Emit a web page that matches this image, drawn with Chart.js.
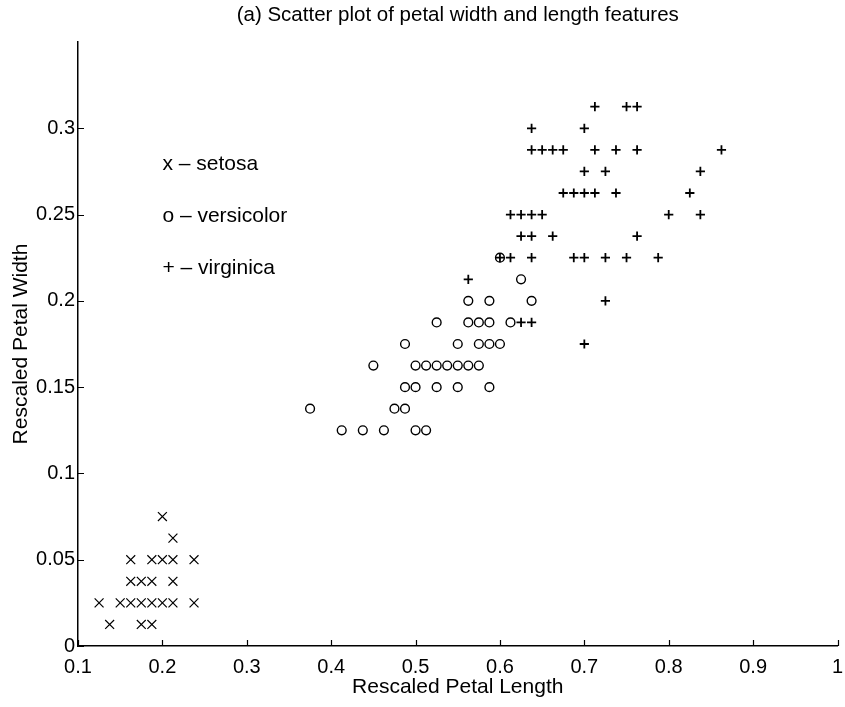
<!DOCTYPE html>
<html>
<head>
<meta charset="utf-8">
<title>Scatter plot of petal width and length features</title>
<script src="https://cdn.jsdelivr.net/npm/chart.js@4.4.1/dist/chart.umd.min.js"></script>
<style>
  html, body { margin: 0; padding: 0; background: #fff; }
  #wrap { width: 845px; height: 707px; }
</style>
</head>
<body>
<div id="wrap"><canvas id="irisChart" width="845" height="707"></canvas></div>
<script>
// rescaled petal length (x) and petal width (y), one entry per visible mark
const setosaX = [0.1375, 0.175, 0.1875,
  0.125, 0.15, 0.1625, 0.175, 0.1875, 0.2, 0.2125, 0.2375,
  0.1625, 0.175, 0.1875, 0.2125,
  0.1625, 0.1875, 0.2, 0.2125, 0.2375,
  0.2125, 0.2];
const setosaY = [0.0125, 0.0125, 0.0125,
  0.025, 0.025, 0.025, 0.025, 0.025, 0.025, 0.025, 0.025,
  0.0375, 0.0375, 0.0375, 0.0375,
  0.05, 0.05, 0.05, 0.05, 0.05,
  0.0625, 0.075];

const versicolorX = [0.4125, 0.4375, 0.4625, 0.5, 0.5125,
  0.375, 0.475, 0.4875,
  0.4875, 0.5, 0.525, 0.55, 0.5875,
  0.45, 0.5, 0.5125, 0.525, 0.5375, 0.55, 0.5625, 0.575,
  0.4875, 0.55, 0.575, 0.5875, 0.6,
  0.525, 0.5625, 0.575, 0.5875, 0.6125,
  0.5625, 0.5875, 0.6375,
  0.625, 0.6];
const versicolorY = [0.125, 0.125, 0.125, 0.125, 0.125,
  0.1375, 0.1375, 0.1375,
  0.15, 0.15, 0.15, 0.15, 0.15,
  0.1625, 0.1625, 0.1625, 0.1625, 0.1625, 0.1625, 0.1625, 0.1625,
  0.175, 0.175, 0.175, 0.175, 0.175,
  0.1875, 0.1875, 0.1875, 0.1875, 0.1875,
  0.2, 0.2, 0.2,
  0.2125, 0.225];

const virginicaX = [0.7, 0.625, 0.6375, 0.725, 0.5625,
  0.6, 0.6125, 0.6375, 0.6875, 0.7, 0.725, 0.75, 0.7875,
  0.625, 0.6375, 0.6625, 0.7625,
  0.6125, 0.625, 0.6375, 0.65, 0.8, 0.8375,
  0.675, 0.6875, 0.7, 0.7125, 0.7375, 0.825,
  0.7, 0.725, 0.8375,
  0.6375, 0.65, 0.6625, 0.675, 0.7125, 0.7375, 0.7625, 0.8625,
  0.6375, 0.7,
  0.7125, 0.75, 0.7625];
const virginicaY = [0.175, 0.1875, 0.1875, 0.2, 0.2125,
  0.225, 0.225, 0.225, 0.225, 0.225, 0.225, 0.225, 0.225,
  0.2375, 0.2375, 0.2375, 0.2375,
  0.25, 0.25, 0.25, 0.25, 0.25, 0.25,
  0.2625, 0.2625, 0.2625, 0.2625, 0.2625, 0.2625,
  0.275, 0.275, 0.275,
  0.2875, 0.2875, 0.2875, 0.2875, 0.2875, 0.2875, 0.2875, 0.2875,
  0.3, 0.3,
  0.3125, 0.3125, 0.3125];

const xTicks = [0.1, 0.2, 0.3, 0.4, 0.5, 0.6, 0.7, 0.8, 0.9, 1];
const yTicks = [0, 0.05, 0.1, 0.15, 0.2, 0.25, 0.3];

// text labels inside the plot, placed in data units
const noteLabels = ['x \u2013 setosa', 'o \u2013 versicolor', '+ \u2013 virginica'];
const noteX = [0.2, 0.2, 0.2];
const noteY = [0.279, 0.249, 0.219];

const titleText = '(a) Scatter plot of petal width and length features';
const FONT = "'Liberation Sans', Arial, sans-serif";

function toPoints(xs, ys) {
  return xs.map((x, i) => ({x: x, y: ys[i]}));
}

// matlab style: ticks point into the plot, title and notes as plain text
const decorations = {
  id: 'decorations',
  afterDraw(chart) {
    const c = chart.ctx;
    const area = chart.chartArea;
    const xs = chart.scales.x, ys = chart.scales.y;
    c.save();
    c.strokeStyle = '#000';
    c.lineWidth = 1.2;
    c.beginPath();
    xTicks.forEach(v => {
      const px = Math.round(xs.getPixelForValue(v)) + 0.5;
      c.moveTo(px, area.bottom);
      c.lineTo(px, area.bottom - 6);
    });
    yTicks.forEach(v => {
      const py = Math.round(ys.getPixelForValue(v)) + 0.5;
      c.moveTo(area.left, py);
      c.lineTo(area.left + 6, py);
    });
    c.stroke();

    c.fillStyle = '#000';
    c.font = '21px ' + FONT;
    c.textAlign = 'left';
    c.textBaseline = 'middle';
    noteLabels.forEach((t, i) => {
      c.fillText(t, xs.getPixelForValue(noteX[i]), ys.getPixelForValue(noteY[i]));
    });

    c.font = '20.5px ' + FONT;
    c.textAlign = 'center';
    c.textBaseline = 'middle';
    c.fillText(titleText, (area.left + area.right) / 2, 15);
    c.restore();
  }
};

const ctx = document.getElementById('irisChart').getContext('2d');
const chart = new Chart(ctx, {
  type: 'scatter',
  data: {
    datasets: [
      {
        label: 'setosa',
        data: toPoints(setosaX, setosaY),
        pointStyle: 'crossRot',
        pointRadius: 6.3,
        borderColor: '#000',
        borderWidth: 1.2
      },
      {
        label: 'versicolor',
        data: toPoints(versicolorX, versicolorY),
        pointStyle: 'circle',
        pointRadius: 4.4,
        borderColor: '#000',
        backgroundColor: 'rgba(0,0,0,0)',
        borderWidth: 1.4
      },
      {
        label: 'virginica',
        data: toPoints(virginicaX, virginicaY),
        pointStyle: 'cross',
        pointRadius: 4.6,
        borderColor: '#000',
        borderWidth: 1.8
      }
    ]
  },
  options: {
    responsive: false,
    animation: false,
    events: [],
    layout: { padding: { top: 42, right: 6, left: 0, bottom: 0 } },
    plugins: {
      legend: { display: false },
      tooltip: { enabled: false },
      title: { display: false }
    },
    scales: {
      x: {
        type: 'linear',
        min: 0.1,
        max: 1,
        afterFit: s => { s.height = 61; s.paddingLeft = 0; s.paddingRight = 0; },
        afterBuildTicks: s => { s.ticks = xTicks.map(v => ({value: v})); },
        grid: { display: false, drawTicks: false },
        border: { display: true, color: '#000', width: 1.5 },
        ticks: {
          color: '#000',
          padding: 9,
          maxRotation: 0,
          font: { family: FONT, size: 20 },
          callback: v => String(+v.toFixed(2))
        },
        title: {
          display: true,
          text: 'Rescaled Petal Length',
          color: '#000',
          font: { family: FONT, size: 21 },
          padding: { top: 0, bottom: 7 }
        }
      },
      y: {
        type: 'linear',
        min: 0,
        max: 0.35,
        afterFit: s => { s.width = 78; },
        afterBuildTicks: s => { s.ticks = yTicks.map(v => ({value: v})); },
        grid: { display: false, drawTicks: false },
        border: { display: true, color: '#000', width: 1.5 },
        ticks: {
          color: '#000',
          padding: 3,
          font: { family: FONT, size: 20 },
          callback: v => String(+v.toFixed(2))
        },
        title: {
          display: true,
          text: 'Rescaled Petal Width',
          color: '#000',
          font: { family: FONT, size: 21 },
          padding: { top: 9, bottom: 0 }
        }
      }
    }
  },
  plugins: [decorations]
});
</script>
</body>
</html>
